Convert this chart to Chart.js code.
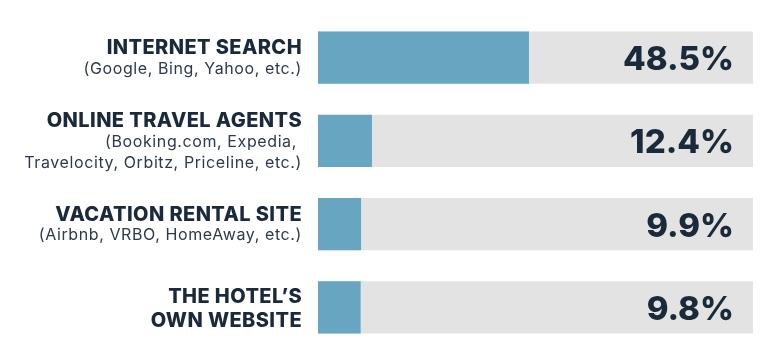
<!DOCTYPE html>
<html><head><meta charset="utf-8">
<script src="https://cdn.jsdelivr.net/npm/chart.js@4"></script>
<style>html,body{margin:0;padding:0;background:#fff;}#wrap{width:768px;height:359px;}</style>
</head><body><div id="wrap"><canvas id="c" width="768" height="359"></canvas></div>
<script>
const categories = ["INTERNET SEARCH", "ONLINE TRAVEL AGENTS", "VACATION RENTAL SITE", "THE HOTEL’S OWN WEBSITE"];
const titleLines = [["INTERNET SEARCH"], ["ONLINE TRAVEL AGENTS"], ["VACATION RENTAL SITE"], ["THE HOTEL’S", "OWN WEBSITE"]];
const subtitleLines = [["(Google, Bing, Yahoo, etc.)"], ["(Booking.com, Expedia, ", "Travelocity, Orbitz, Priceline, etc.)"], ["(Airbnb, VRBO, HomeAway, etc.)"], []];
const shares = [48.5, 12.4, 9.9, 9.8];
const valueLabels = ["48.5%", "12.4%", "9.9%", "9.8%"];
const scaleMax = 100;
const track = categories.map(() => scaleMax);

const BLUE = '#67a5c1', GRAY = '#e3e3e3', NAVY = '#1b2a3a', SUB = '#2c3a4a';
const TITLE_FONT = '800 20px Inter', SUB_FONT = '400 16px Inter', VALUE_FONT = '800 33px Inter';

const labelPlugin = {
  id: 'labels',
  afterDatasetsDraw(chart) {
    const ctx = chart.ctx, ys = chart.scales.y;
    ctx.save();
    categories.forEach((c, i) => {
      const yc = ys.getPixelForValue(i);
      ctx.letterSpacing = '0px';
      ctx.font = VALUE_FONT; ctx.fillStyle = NAVY; ctx.textAlign = 'right'; ctx.textBaseline = 'alphabetic';
      ctx.fillText(valueLabels[i], 734, yc + 12.5);
      const lines = [];
      titleLines[i].forEach(t => lines.push({t, font: TITLE_FONT, cap: 14.5, col: NAVY, bold: true, ls: '0.4px'}));
      subtitleLines[i].forEach(t => lines.push({t, font: SUB_FONT, cap: 11.6, col: SUB, bold: false, ls: '0.6px'}));
      const mids = [0];
      for (let k = 1; k < lines.length; k++) {
        const gap = (lines[k].bold && lines[k-1].bold) ? 24 : 21;
        mids.push(mids[k-1] + gap);
      }
      const off = yc - (mids[0] + mids[mids.length-1]) / 2;
      lines.forEach((ln, k) => {
        ctx.font = ln.font; ctx.fillStyle = ln.col; ctx.textAlign = 'right';
        ctx.letterSpacing = ln.ls;
        ctx.fillText(ln.t, 302, off + mids[k] + ln.cap / 2);
      });
    });
    ctx.restore();
  }
};

new Chart(document.getElementById('c'), {
  type: 'bar',
  data: {
    labels: categories,
    datasets: [
      {data: shares, backgroundColor: BLUE, order: 0, grouped: false, barPercentage: 0.625, categoryPercentage: 1},
      {data: track, backgroundColor: GRAY, order: 1, grouped: false, barPercentage: 0.625, categoryPercentage: 1}
    ]
  },
  options: {
    indexAxis: 'y',
    responsive: false,
    animation: false,
    layout: {padding: {left: 318, right: 15, top: 16, bottom: 10}},
    plugins: {legend: {display: false}, tooltip: {enabled: false}},
    scales: {
      x: {display: false, min: 0, max: scaleMax},
      y: {display: false}
    }
  },
  plugins: [labelPlugin]
});
</script></body></html>
